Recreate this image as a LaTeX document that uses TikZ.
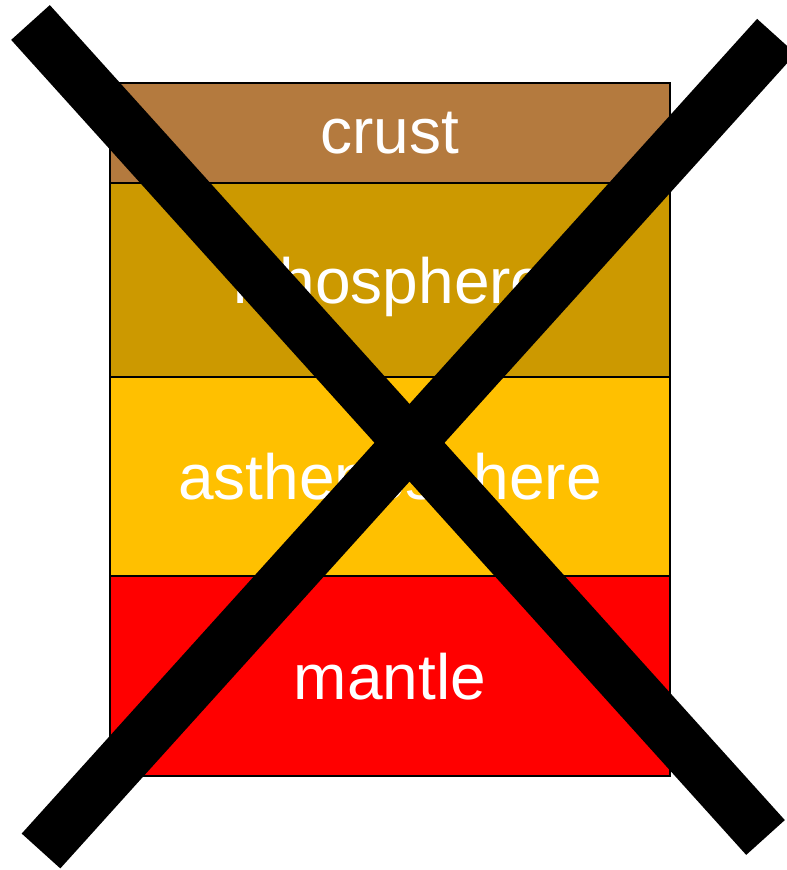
\documentclass[tikz,border=0pt]{standalone}
\usepackage{fontspec}
\setmainfont{Liberation Sans}
\usetikzlibrary{positioning}
\definecolor{crustbrown}{RGB}{180,122,62}
\definecolor{lithogold}{RGB}{204,153,0}
\definecolor{asthenoamber}{RGB}{255,192,0}
\definecolor{mantlered}{RGB}{255,0,0}
\begin{document}
\begin{tikzpicture}[x=1pt,y=1pt,
  layer/.style={draw=black,line width=2pt,minimum width=560pt,inner sep=0pt,outer sep=0pt,
    text=white,text depth=0pt,font=\fontsize{64}{76}\selectfont},
  cross/.style={line width=52pt}]
\useasboundingbox (0,0) rectangle (787,870);
\clip (0,0) rectangle (787,870);
\node[layer,fill=crustbrown,minimum height=100pt,anchor=north west] (crust) at (110,787) {crust};
\node[layer,fill=lithogold,minimum height=194pt,below=0pt of crust] (litho) {lithosphere};
\node[layer,fill=asthenoamber,minimum height=199pt,below=0pt of litho] (astheno) {asthenosphere};
\node[layer,fill=mantlered,minimum height=200pt,below=0pt of astheno] (mantle) {mantle};
\coordinate (xtl) at (30.5,847.5);
\coordinate (xbr) at (765.5,32.5);
\coordinate (xtr) at (776.4,833.7);
\coordinate (xbl) at (41,19);
\draw[cross] (xtl) -- (xbr);
\draw[cross] (xtr) -- (xbl);
\end{tikzpicture}
\end{document}
